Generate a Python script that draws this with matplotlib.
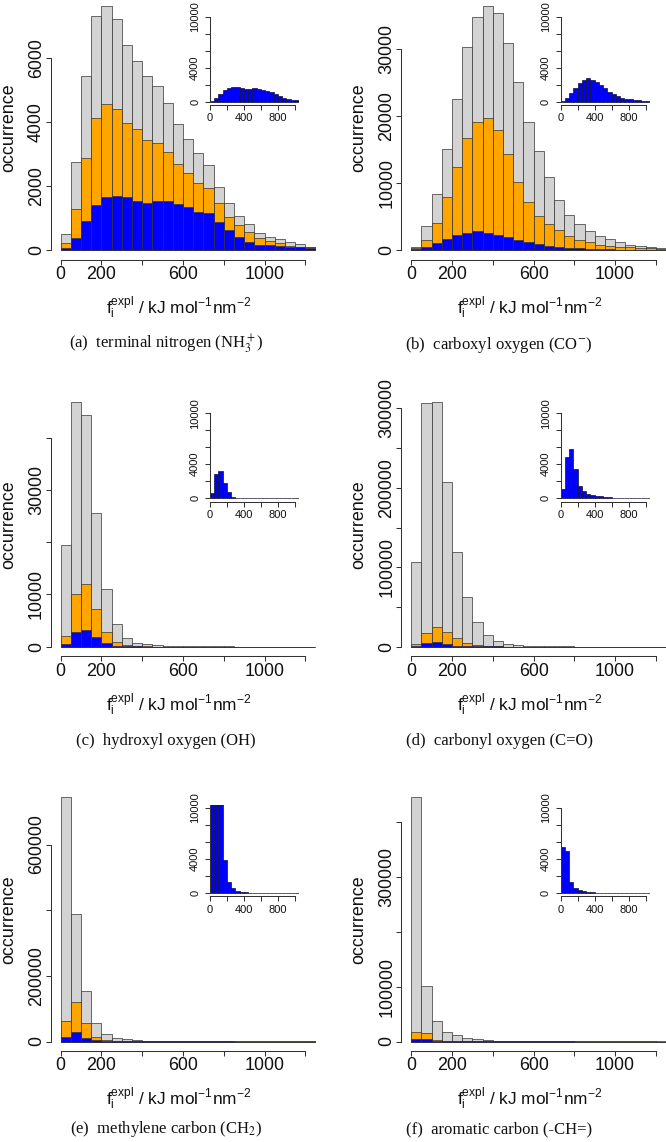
import numpy as np
import matplotlib
matplotlib.use("Agg")
import matplotlib.pyplot as plt
from matplotlib.ticker import FixedLocator, FixedFormatter

plt.rcParams['font.family'] = ['Liberation Sans', 'DejaVu Sans']
plt.rcParams['mathtext.fontset'] = 'custom'
plt.rcParams['mathtext.rm'] = 'Liberation Sans'
plt.rcParams['mathtext.it'] = 'Liberation Sans:italic'
plt.rcParams['mathtext.bf'] = 'Liberation Sans:bold'

# ---------------- data ----------------
bin_edges = np.arange(0, 1251, 50)          # histogram bins (kJ mol^-1 nm^-2)

a_total = [489, 2735, 5439, 7311, 7623, 7207, 6396, 5897, 5439, 5117, 4576, 3931, 3453,
           3016, 2652, 1976, 1456, 1071, 801, 520, 416, 333, 239, 177, 104]
a_orange = [229, 1269, 2860, 4129, 4545, 4389, 3973, 3765, 3432, 3349, 3047, 2683, 2392,
            2080, 1924, 1456, 1019, 780, 551, 364, 291, 208, 135, 104, 83]
a_blue = [52, 364, 915, 1404, 1643, 1685, 1664, 1539, 1456, 1518, 1539, 1435, 1331,
          1196, 1144, 884, 624, 416, 239, 156, 156, 125, 104, 83, 73]

b_total = [400, 3590, 8320, 15100, 22570, 30290, 34880, 36520, 35480, 30890, 25160, 19080,
           14800, 10960, 7470, 5230, 3890, 2840, 2090, 1600, 1150, 750, 550, 400, 300]
b_orange = [250, 1500, 3990, 7970, 12460, 16690, 19180, 19680, 17940, 14300, 10210, 7130,
            5130, 3840, 2990, 2140, 1500, 1150, 750, 600, 500, 400, 300, 250, 200]
b_blue = [90, 380, 990, 1600, 2180, 2570, 2780, 2550, 2270, 1920, 1530, 1140, 860, 600,
          440, 310, 240, 160, 120, 80, 50, 30, 20, 15, 10]

c_total = [19470, 46790, 44360, 25530, 11040, 4280, 1720, 770, 450, 260, 190, 130, 100,
           80, 60, 50, 40, 30, 25, 20, 15, 10, 8, 6, 5]
c_orange = [2110, 10020, 11940, 7150, 2740, 960, 320, 130, 60, 30, 20, 10, 8, 6, 5, 4, 3,
            2, 2, 1, 1, 1, 1, 0, 0]
c_blue = [600, 2800, 3170, 1780, 680, 200, 80, 40, 20, 10, 5, 3, 2, 1, 1, 0, 0, 0, 0, 0,
          0, 0, 0, 0, 0]

d_total = [106960, 307050, 307470, 207630, 119550, 62920, 30620, 14680, 7130, 3780, 2100,
           1260, 840, 600, 400, 300, 200, 150, 100, 80, 60, 40, 30, 20, 10]
d_orange = [3780, 17620, 24750, 18460, 10900, 5030, 2100, 840, 420, 200, 100, 60, 40, 30,
            20, 10, 8, 6, 4, 3, 2, 1, 1, 1, 0]
d_blue = [1110, 4860, 5770, 3400, 1380, 790, 510, 360, 280, 240, 200, 160, 80, 50, 30, 20,
          10, 8, 6, 4, 3, 2, 1, 1, 0]

e_total = [744200, 388800, 153300, 55800, 22300, 10150, 7100, 4060, 3000, 2000, 1500, 1100,
           800, 600, 500, 400, 300, 250, 200, 150, 120, 100, 80, 60, 50]
e_orange = [62000, 121800, 55000, 15200, 5000, 2000, 1000, 500, 300, 200, 150, 100, 80, 60,
            40, 30, 20, 15, 10, 8, 6, 4, 3, 2, 1]
e_blue = [15000, 30000, 12000, 3850, 1270, 600, 280, 120, 60, 30, 15, 10, 5, 3, 2, 1, 1, 0,
          0, 0, 0, 0, 0, 0, 0]

f_total = [444200, 101800, 37580, 18180, 12120, 7270, 4240, 3030, 1800, 1200, 800, 600, 400,
           300, 250, 200, 150, 120, 100, 80, 60, 50, 40, 30, 20]
f_orange = [16970, 15760, 3030, 1800, 1200, 600, 300, 200, 100, 60, 40, 30, 20, 15, 10, 8,
            6, 4, 3, 2, 2, 1, 1, 1, 0]
f_blue = [5440, 4920, 1270, 600, 360, 200, 120, 80, 40, 20, 10, 5, 3, 2, 1, 1, 0, 0, 0, 0,
          0, 0, 0, 0, 0]

x_ticks = [0, 200, 400, 600, 800, 1000, 1200]
x_ticklabels = ['0', '200', '', '600', '', '1000', '']

a_yticks = [0, 2000, 4000, 6000]
a_yticklabels = ['0', '2000', '4000', '6000']
b_yticks = [0, 10000, 20000, 30000]
b_yticklabels = ['0', '10000', '20000', '30000']
c_yticks = [0, 10000, 20000, 30000, 40000]
c_yticklabels = ['0', '10000', '', '30000', '']
d_yticks = [0, 50000, 100000, 150000, 200000, 250000, 300000]
d_yticklabels = ['0', '', '100000', '', '200000', '', '300000']
e_yticks = [0, 200000, 400000, 600000]
e_yticklabels = ['0', '200000', '', '600000']
f_yticks = [0, 100000, 200000, 300000, 400000]
f_yticklabels = ['0', '100000', '', '300000', '']

inset_xticks = [0, 200, 400, 600, 800, 1000]
inset_xticklabels = ['0', '', '400', '', '800', '']
inset_yticks = [0, 2000, 4000, 6000, 8000, 10000]
inset_yticklabels = ['0', '', '4000', '', '', '10000']

captions = ['(a)  terminal nitrogen (NH$_3^+$)',
            '(b)  carboxyl oxygen (CO$^{-}$)',
            '(c)  hydroxyl oxygen (OH)',
            '(d)  carbonyl oxygen (C=O)',
            '(e)  methylene carbon (CH$_2$)',
            '(f)  aromatic carbon (-CH=)']

panels = [
    (a_total, a_orange, a_blue, a_yticks, a_yticklabels),
    (b_total, b_orange, b_blue, b_yticks, b_yticklabels),
    (c_total, c_orange, c_blue, c_yticks, c_yticklabels),
    (d_total, d_orange, d_blue, d_yticks, d_yticklabels),
    (e_total, e_orange, e_blue, e_yticks, e_yticklabels),
    (f_total, f_orange, f_blue, f_yticks, f_yticklabels),
]

# ---------------- layout / style ----------------
W, H = 666, 1142
fig = plt.figure(figsize=(W / 100, H / 100), dpi=100)

GRAY, ORANGE, BLUE = '#D3D3D3', '#FFA500', '#0000FF'
EDGE = '#333333'
AXC = '#333333'
TXT = '#111111'

col_x0 = [60.7, 411.3]          # pixel x of data 0
row_y0 = [250.0, 646.7, 1041.5] # pixel y of count 0
sx = 0.2038                     # px per x unit (main)
span = 244.3                    # px between 0 and max count
cap_x = [166, 499]
cap_y = [349, 745, 1133]

xlabel = r'$\mathrm{f_i^{expl}}$ / kJ mol$^{-1}$nm$^{-2}$'


def px_axes(left, top, width, height):
    return fig.add_axes([left / W, 1 - (top + height) / H, width / W, height / H])


def style_axes(ax, xt, xtl, yt, ytl, fs, tlen, padx, pady):
    for s in ('top', 'right'):
        ax.spines[s].set_visible(False)
    for s in ('left', 'bottom'):
        ax.spines[s].set_color(AXC)
        ax.spines[s].set_linewidth(0.75)
    ax.spines['bottom'].set_bounds(xt[0], xt[-1])
    ax.spines['left'].set_bounds(yt[0], yt[-1])
    ax.xaxis.set_major_locator(FixedLocator(xt))
    ax.xaxis.set_major_formatter(FixedFormatter(xtl))
    ax.yaxis.set_major_locator(FixedLocator(yt))
    ax.yaxis.set_major_formatter(FixedFormatter(ytl))
    ax.tick_params(axis='both', direction='out', length=tlen, width=0.75, color=AXC,
                   labelsize=fs, labelcolor=TXT)
    ax.tick_params(axis='x', pad=padx)
    ax.tick_params(axis='y', pad=pady)
    for lbl in ax.get_yticklabels():
        lbl.set_rotation(90)
        lbl.set_va('center')
        lbl.set_ha('right')
    ax.patch.set_alpha(0)


for i, (tot, ora, blu, yt, ytl) in enumerate(panels):
    r, c = divmod(i, 2)
    x0, y0 = col_x0[c], row_y0[r]
    M = max(tot)
    width = 1350 * sx
    height = 1.08 * span
    bottom = y0 + 0.04 * span
    ax = px_axes(x0 - 50 * sx, bottom - height, width, height)
    ax.bar(bin_edges[:-1], tot, width=50, align='edge', color=GRAY, edgecolor=EDGE, linewidth=0.5)
    ax.bar(bin_edges[:-1], ora, width=50, align='edge', color=ORANGE, edgecolor=EDGE, linewidth=0.5)
    ax.bar(bin_edges[:-1], blu, width=50, align='edge', color=BLUE, edgecolor=EDGE, linewidth=0.5)
    ax.set_xlim(-50, 1300)
    ax.set_ylim(-0.04 * M, 1.04 * M)
    style_axes(ax, x_ticks, x_ticklabels, yt, ytl, 12.9, 3.4, 1.0, 0.6)
    ax.set_ylabel('occurrence', fontsize=12.9, color=TXT, va='center')
    ax.yaxis.set_label_coords(-42 / width, 0.5)
    ax.set_xlabel(xlabel, fontsize=12.4, color=TXT, va='baseline')
    ax.xaxis.set_label_coords(0.5 - 9 / width, -54 / height)

    # inset: blue subset on a fixed scale
    sxi, syi = 0.085, 0.0085
    zero_in = y0 - 148.5
    ih = 10800 * syi
    axi = px_axes(x0 + 149.2, zero_in + 400 * syi - ih, 1050 * sxi, ih)
    axi.bar(bin_edges[:-1], blu, width=50, align='edge', color=BLUE, edgecolor='#111133', linewidth=0.5)
    axi.set_xlim(0, 1050)
    axi.set_ylim(-400, 10400)
    style_axes(axi, inset_xticks, inset_xticklabels, inset_yticks, inset_yticklabels,
               8, 3.6, 2.4, 3.4)

    fig.text(cap_x[c] / W, 1 - cap_y[r] / H, captions[i], family='Liberation Serif',
             math_fontfamily='stix', fontsize=12, ha='center', va='baseline', color=TXT)

fig.savefig('out.png', dpi=100)
